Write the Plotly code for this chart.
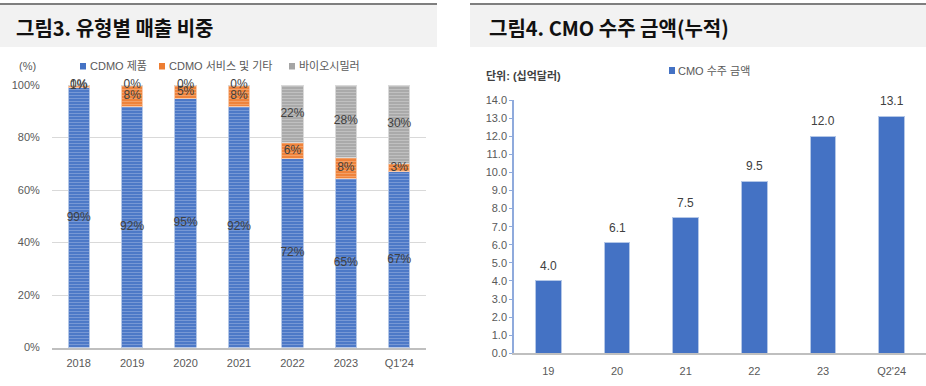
import plotly.graph_objects as go

W, H = 926, 386

# ---------------- data ----------------
years = ["2018", "2019", "2020", "2021", "2022", "2023", "Q1'24"]
cdmo_product = [99, 92, 95, 92, 72, 65, 67]
cdmo_service = [1, 8, 5, 8, 6, 8, 3]
biosimilar = [0, 0, 0, 0, 22, 28, 30]
share_names = ["CDMO 제품", "CDMO 서비스 및 기타", "바이오시밀러"]

order_cats = ["19", "20", "21", "22", "23", "Q2'24"]
order_values = [4.0, 6.1, 7.5, 9.5, 12.0, 13.1]
order_name = "CMO 수주 금액"

left_title = "그림3. 유형별 매출 비중"
right_title = "그림4. CMO 수주 금액(누적)"
left_unit = "(%)"
right_unit = "단위: (십억달러)"

# ---------------- helpers ----------------
def px_x(p):
    return p / W

def px_y(p):
    return 1 - p / H

BLUE, ORANGE, GRAY = "#4472C4", "#ED7D31", "#A5A5A5"
colors = [BLUE, ORANGE, GRAY]
stripe = ["#a9bde6", "#f7c3a0", "#dcdcdc"]
edges = ["#b4c7e7", "#f8cbad", "#d9d9d9"]
LBL = "#404040"
TICK = "#595959"
FONT = "Liberation Sans, Noto Sans CJK KR, sans-serif"
NARROW = "Liberation Sans Narrow, Liberation Sans, Noto Sans CJK KR, sans-serif"
KFONT = "Noto Sans CJK KR, Noto Sans, sans-serif"

fig = go.Figure()

series = [cdmo_product, cdmo_service, biosimilar]
totals = [sum(v) for v in zip(*series)]
fractions = [[v / t for v, t in zip(vals, totals)] for vals in series]

# stacked 100% bars
for name, fr, c, s, e in zip(share_names, fractions, colors, stripe, edges):
    fig.add_trace(go.Bar(
        x=years, y=fr, name=name, xaxis="x", yaxis="y", width=0.4,
        marker=dict(color=c, line=dict(color=e, width=1),
                    pattern=dict(shape="-", fgcolor=s, bgcolor=c, size=3, solidity=0.45)),
        showlegend=False, hoverinfo="skip",
    ))

# data labels centred on each segment (including 0% segments)
cum = [0.0] * len(years)
for vals, fr in zip(series, fractions):
    mids, texts = [], []
    for i, (v, f) in enumerate(zip(vals, fr)):
        mids.append(cum[i] + f / 2)
        cum[i] += f
        texts.append(f"{v}%")
    fig.add_trace(go.Scatter(
        x=years, y=mids, text=texts, mode="text", xaxis="x", yaxis="y",
        textfont=dict(family=FONT, size=12, color=LBL),
        showlegend=False, hoverinfo="skip", cliponaxis=False,
    ))

# right chart bars
fig.add_trace(go.Bar(
    x=order_cats, y=order_values, name=order_name, xaxis="x2", yaxis="y2", width=0.374,
    marker=dict(color=BLUE, line=dict(color="#b4c7e7", width=1)),
    showlegend=False, hoverinfo="skip",
))

annotations = []
for i, v in enumerate(order_values):
    annotations.append(dict(
        x=i, y=v, xref="x2", yref="y2", text=f"{v:.1f}", showarrow=False,
        yanchor="middle", yshift=15,
        font=dict(family=NARROW, size=12, color=LBL),
    ))

# titles
annotations.append(dict(x=px_x(14), y=px_y(27), xref="paper", yref="paper",
                        xanchor="left", yanchor="middle", showarrow=False,
                        text=f"<b>{left_title}</b>",
                        font=dict(family=KFONT, size=20, color="#111111")))
annotations.append(dict(x=px_x(487), y=px_y(27), xref="paper", yref="paper",
                        xanchor="left", yanchor="middle", showarrow=False,
                        text=f"<b>{right_title}</b>",
                        font=dict(family=KFONT, size=20, color="#111111")))

# units
annotations.append(dict(x=px_x(17), y=px_y(66), xref="paper", yref="paper",
                        xanchor="left", yanchor="middle", showarrow=False,
                        text=left_unit, font=dict(family=FONT, size=11, color=TICK)))
annotations.append(dict(x=px_x(484), y=px_y(76), xref="paper", yref="paper",
                        xanchor="left", yanchor="middle", showarrow=False,
                        text=f"<b>{right_unit}</b>",
                        font=dict(family=NARROW, size=11, color=LBL)))

shapes = []
# title boxes
for x0, x1 in [(0, 437), (470, 926)]:
    shapes.append(dict(type="rect", xref="paper", yref="paper",
                       x0=px_x(x0), x1=px_x(x1), y0=px_y(47), y1=px_y(5),
                       fillcolor="#f2f2f2", line=dict(width=0), layer="below"))
    shapes.append(dict(type="line", xref="paper", yref="paper",
                       x0=px_x(x0), x1=px_x(x1), y0=px_y(4), y1=px_y(4),
                       line=dict(color="#7f7f7f", width=2)))

# custom legends (left)
leg_left = [(80, share_names[0], colors[0]), (159, share_names[1], colors[1]),
            (289, share_names[2], colors[2])]
for x, name, c in leg_left:
    shapes.append(dict(type="rect", xref="paper", yref="paper",
                       x0=px_x(x), x1=px_x(x + 6), y0=px_y(69.5), y1=px_y(63),
                       fillcolor=c, line=dict(width=0)))
    annotations.append(dict(x=px_x(x + 8), y=px_y(66), xref="paper", yref="paper",
                            xanchor="left", yanchor="middle", showarrow=False,
                            text=name, font=dict(family=FONT, size=11, color=TICK)))
# right legend
shapes.append(dict(type="rect", xref="paper", yref="paper",
                   x0=px_x(669), x1=px_x(675), y0=px_y(74), y1=px_y(67),
                   fillcolor=BLUE, line=dict(width=0)))
annotations.append(dict(x=px_x(676), y=px_y(70.5), xref="paper", yref="paper",
                        xanchor="left", yanchor="middle", showarrow=False,
                        text=order_name, font=dict(family=NARROW, size=11, color=TICK)))

fig.update_layout(
    width=W, height=H, margin=dict(l=0, r=0, t=0, b=0, autoexpand=False),
    paper_bgcolor="white", plot_bgcolor="rgba(0,0,0,0)",
    barmode="stack",
    showlegend=False,
    xaxis=dict(domain=[px_x(52), px_x(426)], anchor="y", automargin=False, type="category",
               showgrid=False, showline=True, linecolor="#bfbfbf", linewidth=2,
               ticks="outside", ticklen=4, tickcolor="rgba(0,0,0,0)", tickangle=0,
               tickfont=dict(family=FONT, size=11, color=TICK), fixedrange=True),
    yaxis=dict(domain=[px_y(347.5), px_y(85)], anchor="x", range=[0, 1], automargin=False,
               tickvals=[0, 0.2, 0.4, 0.6, 0.8, 1.0], tickformat=".0%",
               showgrid=True, gridcolor="#d9d9d9", gridwidth=1, zeroline=False,
               showline=False, ticks="outside", ticklen=9, tickcolor="rgba(0,0,0,0)",
               tickfont=dict(family=FONT, size=11, color=TICK), fixedrange=True),
    xaxis2=dict(domain=[px_x(514), 1.0], anchor="y2", automargin=False, type="category",
                range=[-0.5, len(order_cats) - 0.5],
                showgrid=False, showline=True, linecolor="#bfbfbf", linewidth=2,
                ticks="outside", ticklen=6, tickcolor="rgba(0,0,0,0)", tickangle=0,
                tickfont=dict(family=NARROW, size=11, color=TICK), fixedrange=True),
    yaxis2=dict(domain=[px_y(353.3), px_y(100)], anchor="x2", range=[0, 14], automargin=False,
                dtick=1, tick0=0, tickformat=".1f",
                showgrid=False, zeroline=False, showline=True,
                linecolor="#8faadc", linewidth=1.5,
                ticks="outside", ticklen=3, tickcolor="#8faadc",
                tickfont=dict(family=NARROW, size=11, color=TICK), fixedrange=True),
    annotations=annotations, shapes=shapes,
)

fig.write_html("out.html", config={"displayModeBar": False},
               post_script="document.body.style.margin='0';")
